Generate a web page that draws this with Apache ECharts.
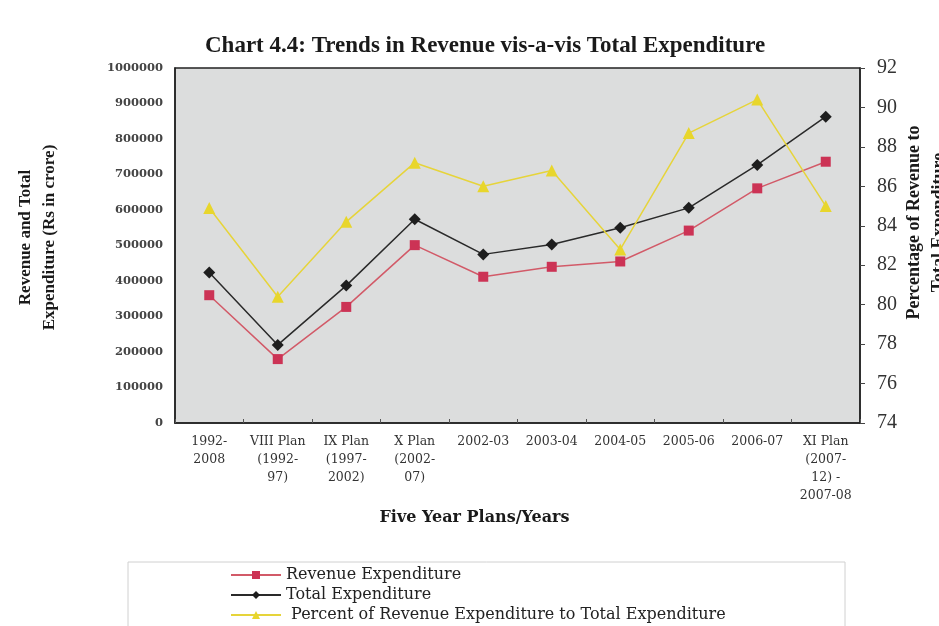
<!DOCTYPE html>
<html>
<head>
<meta charset="utf-8">
<script src="https://cdn.jsdelivr.net/npm/echarts@6/dist/echarts.min.js"></script>
<style>
  html,body{margin:0;padding:0;background:#fff;}
  #chart{width:939px;height:626px;}
</style>
</head>
<body>
<div id="chart"></div>
<script>
// categories (five year plans / years)
const categories = [
  '1992-\n2008',
  'VIII Plan\n(1992-\n97)',
  'IX Plan\n(1997-\n2002)',
  'X Plan\n(2002-\n07)',
  '2002-03',
  '2003-04',
  '2004-05',
  '2005-06',
  '2006-07',
  'XI Plan\n(2007-\n12) -\n2007-08'
]
// Rs in crore
const revenueExp = [360000, 180000, 327000, 501000, 412000, 440000, 455000, 542000, 661000, 736000]
const totalExp = [424000, 220000, 387000, 574000, 475000, 503000, 550000, 606000, 727000, 863000]
// percent of revenue to total
const percentRev = [84.9, 80.4, 84.2, 87.2, 86.0, 86.8, 82.8, 88.7, 90.4, 85.0]

const serif = '"Liberation Serif","DejaVu Serif",serif'
const wideSerif = '"DejaVu Serif","Liberation Serif",serif'

const chart = echarts.init(document.getElementById('chart'))

let option = {
  backgroundColor:'#fff',
  animation:false,
  title:{
    text:'Chart 4.4: Trends in Revenue vis-a-vis Total Expenditure',
    left:200,
    top:30,
    textStyle:{fontFamily:serif,fontSize:23,fontWeight:'bold',color:'#1a1a1a'}
  },
  grid:{
    left:175, right:79, top:68, bottom:203,
    outerBoundsMode:'none',
    show:true,
    backgroundColor:'#dcdddd',
    borderColor:'#222',
    borderWidth:1.5
  },
  legend:{
    orient:'vertical',
    left:230,
    top:565,
    height:70,
    padding:0,
    itemGap:0,
    itemWidth:50,
    itemHeight:10,
    textStyle:{fontFamily:wideSerif,fontSize:16,lineHeight:20,color:'#222'},
    data:['Revenue Expenditure','Total Expenditure',' Percent of Revenue Expenditure to Total Expenditure']
  },
  graphic:[{
    type:'rect',
    shape:{x:128,y:562,width:717,height:80},
    style:{fill:'none',stroke:'#d0d0d0',lineWidth:1},
    z:-1
  }],
  xAxis:[{
    type:'category',
    data:categories,
    boundaryGap:true,
    name:'Five Year Plans/Years',
    nameLocation:'middle',
    nameGap:82,
    nameTextStyle:{fontFamily:wideSerif,fontSize:16,fontWeight:'bold',color:'#1a1a1a',padding:[0,86,0,0]},
    axisLine:{lineStyle:{color:'#222',width:1.5}},
    axisTick:{show:true,inside:true,length:4,lineStyle:{color:'#555'}},
    axisLabel:{
      interval:0,
      margin:10,
      fontFamily:wideSerif,
      fontSize:12.5,
      lineHeight:18,
      color:'#333',
      verticalAlign:'top'
    }
  }],
  yAxis:[{
    type:'value',
    min:0,
    max:1000000,
    interval:100000,
    position:'left',
    name:'Revenue and Total\nExpenditure (Rs in crore)',
    nameLocation:'middle',
    nameGap:113,
    nameTextStyle:{fontFamily:serif,fontSize:17,fontWeight:'bold',color:'#1a1a1a',lineHeight:24,padding:[0,0,0,16]},
    splitLine:{show:false},
    axisLine:{show:true,lineStyle:{color:'#222',width:1.5}},
    axisTick:{show:false},
    axisLabel:{margin:12,fontFamily:wideSerif,fontSize:11.5,fontWeight:'bold',color:'#444',formatter:v => String(v)}
  },{
    type:'value',
    min:74,
    max:92,
    interval:2,
    position:'right',
    name:'Percentage of Revenue to\nTotal Expenditure',
    nameLocation:'middle',
    nameMoveOverlap:false,
    nameGap:42,
    nameTextStyle:{fontFamily:serif,fontSize:18,fontWeight:'bold',color:'#1a1a1a',lineHeight:25,padding:[0,0,0,46]},
    splitLine:{show:false},
    axisLine:{show:true,lineStyle:{color:'#222',width:1.5}},
    axisTick:{show:true,length:5,lineStyle:{color:'#444'}},
    axisLabel:{margin:17,fontFamily:serif,fontSize:20,color:'#333'}
  }],
  series:[{
    name:'Revenue Expenditure',
    type:'line',
    data:revenueExp,
    symbol:'rect',
    symbolSize:10,
    lineStyle:{color:'#d25a68',width:1.5},
    itemStyle:{color:'#cc3355'}
  },{
    name:'Total Expenditure',
    type:'line',
    data:totalExp,
    symbol:'diamond',
    symbolSize:12,
    lineStyle:{color:'#2a2a2a',width:1.5},
    itemStyle:{color:'#1e1e1e'}
  },{
    name:' Percent of Revenue Expenditure to Total Expenditure',
    type:'line',
    yAxisIndex:1,
    data:percentRev,
    symbol:'triangle',
    symbolSize:12,
    lineStyle:{color:'#e6d43a',width:1.5},
    itemStyle:{color:'#e8d62c'}
  }]
}

chart.setOption(option)
</script>
</body>
</html>
